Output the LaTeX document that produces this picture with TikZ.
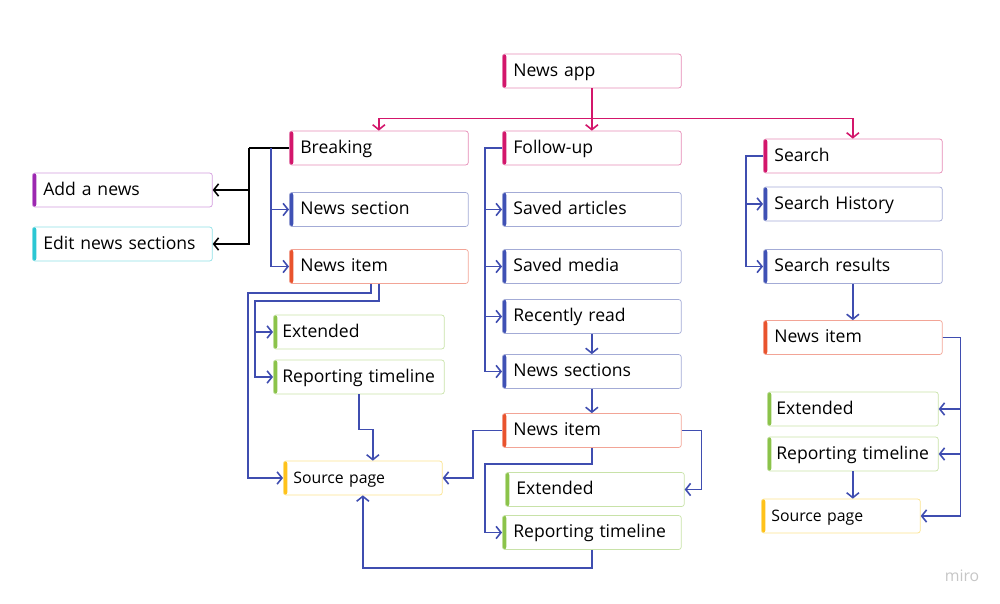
\documentclass[tikz,border=0pt]{standalone}
\usepackage{fontspec}
\setmainfont{Open Sans}
\usepackage{xcolor}
\usepackage{tikz}
\usetikzlibrary{arrows.meta}

\definecolor{headbar}{HTML}{D3166B}
\definecolor{headline}{HTML}{E58BB6}
\definecolor{navybar}{HTML}{3F51B5}
\definecolor{navyline}{HTML}{A3ABD6}
\definecolor{hotbar}{HTML}{E9532D}
\definecolor{hotline}{HTML}{F2A496}
\definecolor{leafbar}{HTML}{8BC34A}
\definecolor{leafline}{HTML}{C8E2A8}
\definecolor{goldbar}{HTML}{FFC21A}
\definecolor{goldline}{HTML}{FBE38F}
\definecolor{plumbar}{HTML}{9C27B0}
\definecolor{plumline}{HTML}{D39BDD}
\definecolor{tealbar}{HTML}{2BC7D3}
\definecolor{tealline}{HTML}{8FE0E6}
\definecolor{linkblue}{HTML}{3F4DB0}
\definecolor{linkpink}{HTML}{D3166B}

\begin{document}
\begin{tikzpicture}[x=0.02cm, y=-0.02cm,
		>={Straight Barb[length=2.8pt,width=7pt]},
		card/.style={rectangle, draw, rounded corners=1.5pt, minimum height=0.68cm, text width=3.14cm, inner xsep=0.22cm, text height=1.6ex, text depth=0.45ex, align=left, anchor=west, font=\fontsize{10}{12}\selectfont},
		bar/.style={path picture={\fill[#1] (path picture bounding box.north west) rectangle ([xshift=0.08cm]path picture bounding box.south west);}},
		head/.style={card, draw=headline, bar=headbar},
		navy/.style={card, draw=navyline, bar=navybar},
		hot/.style={card, draw=hotline, bar=hotbar},
		leaf/.style={card, draw=leafline, bar=leafbar},
		gold/.style={card, draw=goldline, bar=goldbar, text width=2.78cm, inner xsep=0.2cm, font=\fontsize{9}{11}\selectfont},
		narrow/.style={text width=3.06cm, inner xsep=0.18cm},
		link/.style={->, draw=linkblue, line width=0.9pt},
		pinklink/.style={draw=linkpink, line width=0.9pt},
		blacklink/.style={draw=black, line width=0.9pt}
	]
		\useasboundingbox (0,0) rectangle (1000,604);

		% Top level
		\node[head] (app) at (502,71) {News app};
		\node[head] (breaking) at (289,148) {Breaking};
		\node[head] (followup) at (502,148) {Follow-up};
		\node[head] (search) at (763,156) {Search};

		% Breaking branch
		\node[card, draw=plumline, bar=plumbar, text width=3.16cm] (addnews) at (32,190) {Add a news};
		\node[card, draw=tealline, bar=tealbar, text width=3.16cm] (editsections) at (32,244) {Edit news sections};
		\node[navy] (section) at (289,209.5) {News section};
		\node[hot] (itemL) at (289,266.5) {News item};
		\node[leaf, narrow] (extL) at (273,332) {Extended};
		\node[leaf, narrow] (reportL) at (273,377) {Reporting timeline};
		\node[gold] (sourceL) at (283,478) {Source page};

		% Follow-up branch
		\node[navy] (savedart) at (502,209.5) {Saved articles};
		\node[navy] (savedmedia) at (502,266.5) {Saved media};
		\node[navy] (recent) at (502,316.5) {Recently read};
		\node[navy] (sections) at (502,371.5) {News sections};
		\node[hot] (itemM) at (502,430.5) {News item};
		\node[leaf] (extM) at (505,489.5) {Extended};
		\node[leaf] (reportM) at (502,532.5) {Reporting timeline};

		% Search branch
		\node[navy] (history) at (763,204) {Search History};
		\node[navy] (results) at (763,266.5) {Search results};
		\node[hot] (itemR) at (763,337.5) {News item};
		\node[leaf, narrow] (extR) at (767,409) {Extended};
		\node[leaf, narrow] (reportR) at (767,454) {Reporting timeline};
		\node[gold] (sourceR) at (761,516) {Source page};

		% Top links
		\draw[pinklink] (app.south) -- ++(0,30) coordinate (fork);
		\draw[pinklink, ->] (fork) -| (breaking);
		\draw[pinklink, ->] (fork) -- (followup);
		\draw[pinklink, ->] (fork) -| (search);

		% Breaking links
		\draw[blacklink] (breaking.west) -- ++(-40,0) coordinate (bk);
		\draw[blacklink, ->] (bk) |- (addnews);
		\draw[blacklink, ->] (bk) |- (editsections);
		\foreach \n in {section,itemL} {
			\draw[link] (breaking.west) ++(-18,0) |- (\n);
		}
		\draw[link] (itemL.south) ++(-8,0) -- ++(0,9) -- ++(-123,0) |- (sourceL);
		\foreach \n in {extL,reportL} {
			\draw[link] (itemL.south) -- ++(0,17) -- ++(-124,0) |- (\n);
		}
		\draw[link] (reportL.south) -- ++(0,35) -| ([xshift=0.2cm]sourceL.north);

		% Follow-up links
		\foreach \n in {savedart,savedmedia,recent,sections} {
			\draw[link] (followup.west) -- ++(-17,0) |- (\n);
		}
		\draw[link] (recent) -- (sections);
		\draw[link] (sections) -- (itemM);
		\draw[link] (itemM.west) -- ++(-29,0) |- (sourceL);
		\draw[link] (itemM.east) -- ++(20,0) |- (extM);
		\draw[link] (itemM.south) -- ++(0,16) -- ++(-107,0) |- (reportM);
		\draw[link] (reportM.south) -- ++(0,18) -| (sourceL);

		% Search links
		\foreach \n in {history,results} {
			\draw[link] (search.west) -- ++(-17,0) |- (\n);
		}
		\draw[link] (results) -- (itemR);
		\foreach \n in {extR,reportR,sourceR} {
			\draw[link] (itemR.east) -- ++(18,0) |- (\n);
		}
		\draw[link] (reportR) -- (reportR.south |- sourceR.north);

		% Watermark
		\node[text=gray!45, font=\fontsize{9}{10}\selectfont] (watermark) at (962,576) {miro};
	\end{tikzpicture}
\end{document}
